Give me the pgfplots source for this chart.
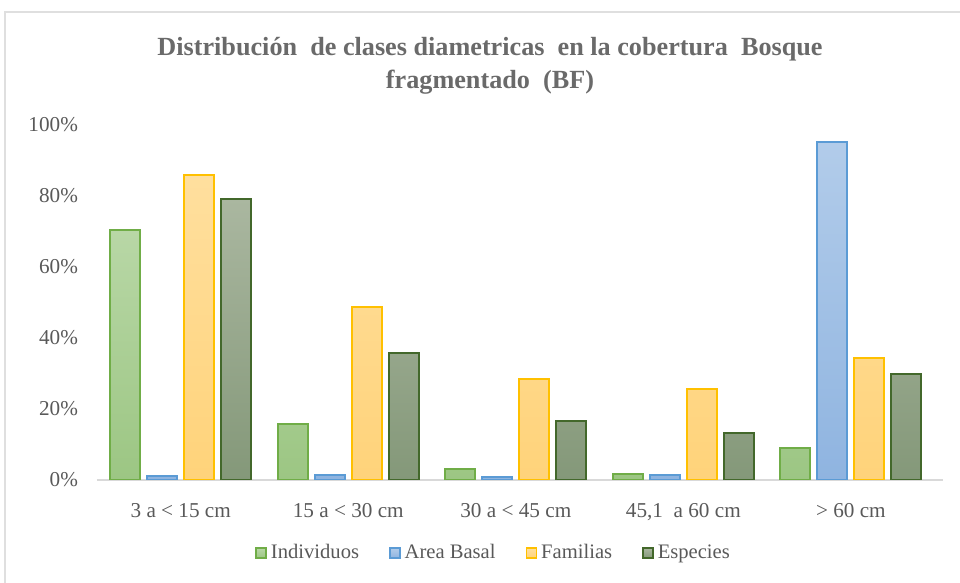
\documentclass[border=0pt]{standalone}
\usepackage{fontspec}
\setmainfont{Liberation Serif}
\usepackage{pgfplots}
\pgfplotsset{compat=1.18}

\definecolor{txtgray}{HTML}{595959}
\definecolor{ttlgray}{HTML}{6A6A6A}
\definecolor{indline}{HTML}{70AD47}
\definecolor{indtop}{HTML}{B8D7A6}
\definecolor{indbot}{HTML}{9CC683}
\definecolor{abline}{HTML}{5B9BD5}
\definecolor{abtop}{HTML}{B2CCEA}
\definecolor{abbot}{HTML}{8FB4E0}
\definecolor{famline}{HTML}{FFC000}
\definecolor{famtop}{HTML}{FFDF9E}
\definecolor{fambot}{HTML}{FFD37A}
\definecolor{espline}{HTML}{43682B}
\definecolor{esptop}{HTML}{AAB7A0}
\definecolor{espbot}{HTML}{849879}

\begin{document}
\begin{tikzpicture}[x=1pt,y=1pt]
\path[use as bounding box] (-48.5,-51.5) rectangle (431.5,240);
\draw[gray!25, line width=1pt] (-46,-52) -- (-46,234) -- (432,234);
\node[align=center, text=ttlgray, font=\bfseries\fontsize{13.1}{16.5}\selectfont]
  at (196.5,207) {Distribución\ \ de clases diametricas\ \ en la cobertura\ \ Bosque\\fragmentado\ \ (BF)};
\begin{axis}[
  at={(0,0)}, anchor=south west,
  scale only axis, width=423pt, height=177.5pt,
  ybar=3.5pt, bar width=15pt,
  xmin=-0.5, xmax=4.55, ymin=0, ymax=100,
  xtick={0,1,2,3,4},
  xticklabels={3 a\ < 15\ cm, 15 a\ < 30\ cm, 30 a\ < 45\ cm, {45,1\ \ a 60\ cm}, >\ 60\ cm},
  ytick={0,20,40,60,80,100},
  yticklabel={\pgfmathprintnumber{\tick}\%},
  /pgf/number format/assume math mode=true,
  axis lines*=left,
  y axis line style={draw=none},
  x axis line style={draw=gray!30, line width=1pt},
  tick style={draw=none},
  ticklabel style={font=\fontsize{10.6}{12}\selectfont, text=txtgray},
  yticklabel style={xshift=-6pt},
  xticklabel style={yshift=-4pt},
  legend style={at={(0.47,-0.206)}, anchor=center, draw=none, fill=none,
    legend columns=4, font=\fontsize{10.3}{12}\selectfont, text=txtgray,
    /tikz/every even column/.append style={column sep=13pt}},
  legend image code/.code={\draw[#1, line width=0.8pt] (0pt,-2.5pt) rectangle (5pt,2.5pt);},
]
\addplot[draw=indline, line width=1pt, top color=indtop, bottom color=indbot]
  coordinates {(0,70.4) (1,15.8) (2,3.1) (3,1.7) (4,9.0)};
\addplot[draw=abline, line width=1pt, top color=abtop, bottom color=abbot]
  coordinates {(0,1.1) (1,1.4) (2,0.8) (3,1.4) (4,95.2)};
\addplot[draw=famline, line width=1pt, top color=famtop, bottom color=fambot]
  coordinates {(0,85.9) (1,48.7) (2,28.5) (3,25.6) (4,34.4)};
\addplot[draw=espline, line width=1pt, top color=esptop, bottom color=espbot]
  coordinates {(0,79.1) (1,35.8) (2,16.6) (3,13.2) (4,29.9)};
\legend{Individuos, Area Basal, Familias, Especies}
\end{axis}
\end{tikzpicture}
\end{document}
